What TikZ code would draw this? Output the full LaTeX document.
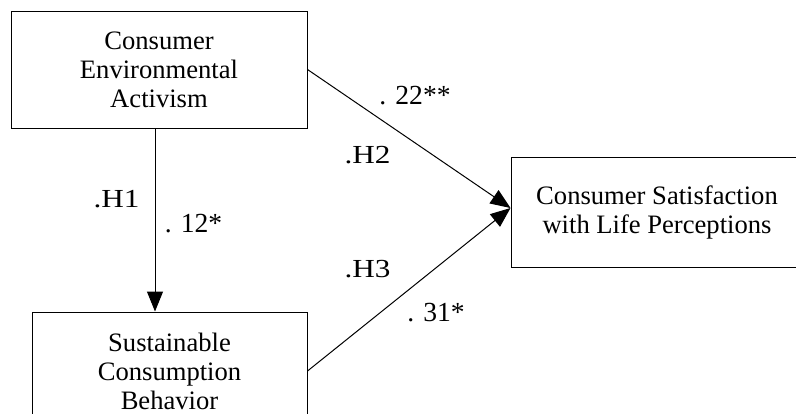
\documentclass[tikz,border=0pt]{standalone}
\usepackage{fontspec}
\setmainfont{Liberation Serif}
\usetikzlibrary{arrows.meta}

\newcommand{\widelabel}[1]{\scalebox{1.2}[1]{#1}}

\begin{document}
\begin{tikzpicture}[x=0.5pt,y=0.5pt]
    \tikzset{
        construct/.style={draw,line width=0.5pt,align=center,inner sep=0pt,
            font=\fontsize{13.3}{14.5}\selectfont},
        link/.style={line width=0.5pt,-{Triangle[length=10pt,width=8pt]}},
        hyp/.style={inner sep=0pt,font=\fontsize{13}{15}\selectfont},
        coef/.style={inner sep=0pt,font=\fontsize{13.8}{16}\selectfont}
    }
    \useasboundingbox (0,0) rectangle (796,-413);
    \node[construct,minimum width=148pt,minimum height=58.5pt] (eca) at (159,-69.5)
        {Consumer\\Environmental\\Activism};
    \node[construct,minimum width=137.5pt,minimum height=59pt] (scb) at (169.5,-371)
        {Sustainable\\Consumption\\Behavior};
    \node[construct,minimum width=146pt,minimum height=55pt] (cslp) at (657,-212)
        {Consumer Satisfaction\\with Life Perceptions};
    % paths
    \draw[link] ([xshift=-2pt]eca.south) -- ([xshift=-2pt]eca.south |- scb.north);
    \draw[link] (eca.east) -- ([yshift=2pt]cslp.west);
    \draw[link] (scb.east) -- ([yshift=2pt]cslp.west);
    % labels
    \node[hyp] (h1) at (116.5,-199) {\widelabel{.H1}};
    \node[coef] (c1) at (193.5,-224) {. 12*};
    \node[hyp] (h2) at (367.5,-155) {\widelabel{.H2}};
    \node[coef] (c2) at (415,-96) {. 22**};
    \node[hyp] (h3) at (367.5,-269) {\widelabel{.H3}};
    \node[coef] (c3) at (436,-312.5) {. 31*};
\end{tikzpicture}
\end{document}
